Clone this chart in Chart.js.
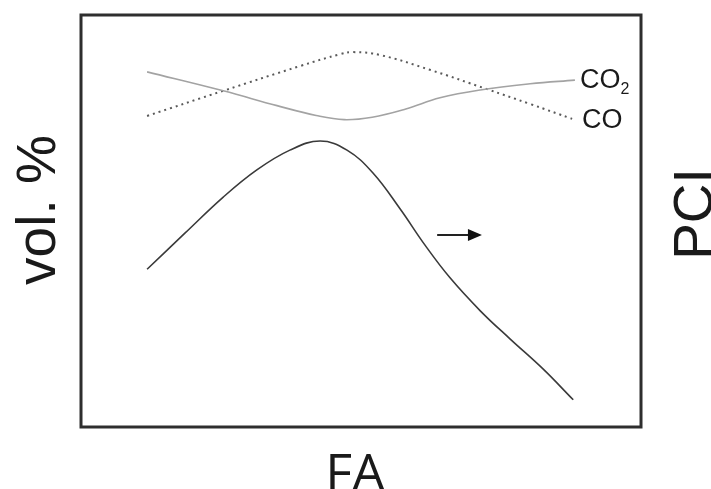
<!DOCTYPE html>
<html>
<head>
<meta charset="utf-8">
<script src="https://cdn.jsdelivr.net/npm/chart.js@4/dist/chart.umd.min.js"></script>
<style>
  body { margin: 0; background: #fff; }
  #wrap { width: 711px; height: 489px; position: relative; }
</style>
</head>
<body>
<div id="wrap"><canvas id="chart"></canvas></div>
<script>
// FA position (0-100) and values (0-100, arbitrary units)
const co2X = [11.8, 25.4, 35.0, 42.0, 47.0, 52.0, 58.0, 64.1, 71.3, 80.2, 88.2];
const co2Y = [86.2, 81.6, 78.0, 75.6, 74.6, 75.2, 77.2, 79.9, 81.8, 83.3, 84.2];

const coX = [11.8, 25.4, 39.1, 46.3, 48.6, 53.4, 62.3, 72.5, 80.2, 87.7];
const coY = [75.5, 81.6, 87.6, 90.5, 91.0, 90.3, 86.7, 82.0, 78.4, 74.8];

const pciX = [11.8, 18.6, 25.4, 31.4, 37.3, 42.7, 47.5, 52.1, 57.0, 61.4, 65.9, 71.3, 76.6, 82.5, 87.9];
const pciY = [38.3, 47.1, 55.8, 62.4, 67.2, 69.4, 67.2, 61.7, 52.9, 44.2, 36.2, 28.2, 21.4, 14.1, 6.6];

const seriesLabels = ['CO', 'CO'];   // second gets subscript 2 -> CO2
const arrowFrom = [63.6, 46.6];
const arrowTo = [71.6, 46.6];

function pts(xs, ys) {
    return xs.map((x, i) => ({ x: x, y: ys[i] }));
}

// frame, axis titles, line labels and arrow
const decor = {
    id: 'decor',
    afterDraw(chart) {
        const ctx = chart.ctx;
        const a = chart.chartArea;
        const xs = chart.scales.x;
        const ys = chart.scales.y;
        ctx.save();

        // frame
        ctx.strokeStyle = '#2e2e2e';
        ctx.lineWidth = 3;
        ctx.strokeRect(a.left, a.top, a.right - a.left, a.bottom - a.top);

        ctx.fillStyle = '#1a1a1a';

        // y title (left)
        ctx.save();
        ctx.font = '55px "Liberation Sans", Arial, sans-serif';
        ctx.textAlign = 'center';
        ctx.textBaseline = 'alphabetic';
        ctx.translate(55, 210);
        ctx.rotate(-Math.PI / 2);
        ctx.fillText('vol. %', 0, 0);
        ctx.restore();

        // right title
        ctx.save();
        ctx.font = '55px "Liberation Sans", Arial, sans-serif';
        ctx.textAlign = 'center';
        ctx.translate(712, 214);
        ctx.rotate(-Math.PI / 2);
        ctx.fillText('PCI', 0, 0);
        ctx.restore();

        // x title
        ctx.font = '52px "Open Sans", sans-serif';
        ctx.textAlign = 'center';
        ctx.textBaseline = 'alphabetic';
        ctx.fillText('FA', 355, 491);

        // line labels
        ctx.font = '27px "Liberation Sans", Arial, sans-serif';
        ctx.textAlign = 'left';
        ctx.textBaseline = 'middle';
        const lx = xs.getPixelForValue(89.1);
        const y2 = ys.getPixelForValue(co2Y[co2Y.length - 1]);
        ctx.fillText(seriesLabels[1], lx, y2);
        const w = ctx.measureText(seriesLabels[1]).width;
        ctx.font = '16px "Liberation Sans", Arial, sans-serif';
        ctx.fillText('2', lx + w, y2 + 9);
        ctx.font = '27px "Liberation Sans", Arial, sans-serif';
        ctx.fillText(seriesLabels[0], lx + 2, ys.getPixelForValue(coY[coY.length - 1]) + 2);

        // arrow
        const ax0 = xs.getPixelForValue(arrowFrom[0]);
        const ax1 = xs.getPixelForValue(arrowTo[0]);
        const ay = ys.getPixelForValue(arrowFrom[1]);
        ctx.strokeStyle = '#222';
        ctx.lineWidth = 2;
        ctx.beginPath();
        ctx.moveTo(ax0, ay);
        ctx.lineTo(ax1 - 12, ay);
        ctx.stroke();
        ctx.fillStyle = '#111';
        ctx.beginPath();
        ctx.moveTo(ax1, ay);
        ctx.lineTo(ax1 - 14, ay - 6);
        ctx.lineTo(ax1 - 14, ay + 6);
        ctx.closePath();
        ctx.fill();

        ctx.restore();
    }
};

const ctx = document.getElementById('chart').getContext('2d');
const chart = new Chart(ctx, {
    type: 'line',
    data: {
        datasets: [
            {
                label: 'CO2',
                data: pts(co2X, co2Y),
                borderColor: '#a3a3a3',
                borderWidth: 1.6,
                pointRadius: 0,
                tension: 0.4
            },
            {
                label: 'CO',
                data: pts(coX, coY),
                borderColor: '#5a5a5a',
                borderWidth: 2,
                borderDash: [2, 4],
                pointRadius: 0,
                tension: 0.4
            },
            {
                label: 'PCI',
                data: pts(pciX, pciY),
                borderColor: '#3a3a3a',
                borderWidth: 1.6,
                pointRadius: 0,
                tension: 0.4
            }
        ]
    },
    options: {
        responsive: true,
        maintainAspectRatio: false,
        animation: false,
        layout: {
            padding: { left: 81, top: 15, right: 70, bottom: 62 }
        },
        scales: {
            x: { type: 'linear', min: 0, max: 100, display: false },
            y: { type: 'linear', min: 0, max: 100, display: false }
        },
        plugins: {
            legend: { display: false },
            tooltip: { enabled: false }
        }
    },
    plugins: [decor]
});
</script>
</body>
</html>
